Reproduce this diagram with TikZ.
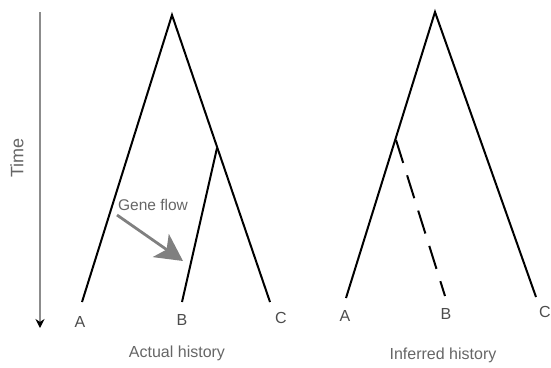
\documentclass[tikz,border=0pt]{standalone}
\usepackage{fontspec}
\setmainfont{Liberation Sans}
\usetikzlibrary{arrows.meta,positioning}

\begin{document}
\begin{tikzpicture}[
  x=1pt, y=-1pt,
  branch/.style={line width=2pt, black},
  leaf/.style={text=black!70, font=\fontsize{16}{18}\selectfont, inner sep=0pt},
  caption/.style={text=black!60, font=\fontsize{16}{18}\selectfont, inner sep=0pt},
  flow/.style={line width=2.8pt, black!50, -{Stealth[length=27pt, width=28pt, inset=7pt]}}
]
\useasboundingbox (0,0) rectangle (551,367);

% Time axis
\coordinate (time_top) at (40,12);
\coordinate (time_bottom) at (40,328);
\draw[line width=1.4pt, black!45, -{Stealth[black, length=9pt, width=9pt]}] (time_top) -- (time_bottom);
\node[caption, rotate=90, font=\fontsize{18}{20}\selectfont] (time_label) at (17,158) {Time};

% Actual history
\coordinate (actual_root) at (172,15);
\coordinate (actual_split) at (217,148);
\coordinate (actual_a) at (82,302);
\coordinate (actual_b) at (182,302);
\coordinate (actual_c) at (270,302);
\draw[branch] (actual_a) -- (actual_root) -- (actual_c);
\draw[branch] (actual_split) -- (actual_b);
\node[leaf] (actual_label_a) at (80,322) {A};
\node[leaf] (actual_label_b) at (182,320) {B};
\node[leaf] (actual_label_c) at (281,318) {C};
\node[caption] (actual_caption) at (177,353) {Actual history};

% Gene flow
\coordinate (flow_start) at (117,215);
\coordinate (flow_end) at (183,261);
\draw[flow] (flow_start) -- (flow_end);
\node[caption, font=\fontsize{15.5}{17}\selectfont] (flow_label) at (153,205) {Gene flow};

% Inferred history
\coordinate (inferred_root) at (435,12);
\coordinate (inferred_split) at (396,140);
\coordinate (inferred_a) at (346,298);
\coordinate (inferred_b) at (445,296);
\coordinate (inferred_c) at (536,297);
\draw[branch] (inferred_a) -- (inferred_root) -- (inferred_c);
\draw[branch, dash pattern=on 24pt off 13pt] (inferred_split) -- (inferred_b);
\node[leaf] (inferred_label_a) at (345,316) {A};
\node[leaf] (inferred_label_b) at (446,314) {B};
\node[leaf] (inferred_label_c) at (545,312) {C};
\node[caption] (inferred_caption) at (443,355) {Inferred history};

\end{tikzpicture}
\end{document}
